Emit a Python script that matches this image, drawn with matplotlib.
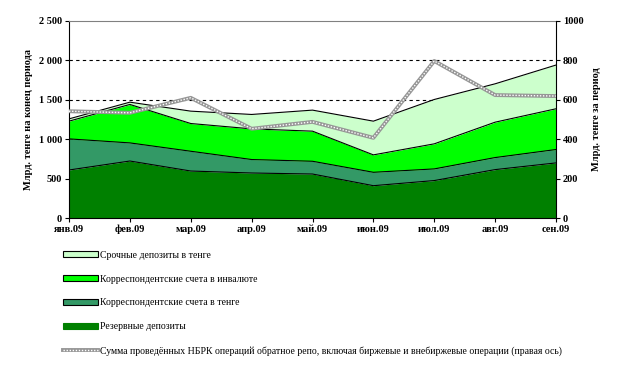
import numpy as np
import matplotlib
matplotlib.use('Agg')
import matplotlib.pyplot as plt
from matplotlib.patches import Patch
from matplotlib.lines import Line2D
from matplotlib.legend_handler import HandlerTuple

months = ['янв.09', 'фев.09', 'мар.09', 'апр.09', 'май.09', 'июн.09', 'июл.09', 'авг.09', 'сен.09']
reserve = [609, 723, 596, 571, 558, 410, 475, 614, 699]
corr_kzt = [395, 230, 251, 171, 162, 170, 148, 153, 170]
corr_fx = [225, 488, 352, 389, 382, 221, 318, 449, 517]
term_dep = [29, 29, 157, 183, 267, 428, 563, 487, 555]
repo = [542, 534, 610, 453, 488, 407, 797, 624, 619]

names = ['Срочные депозиты в тенге', 'Корреспондентские счета в инвалюте',
         'Корреспондентские счета в тенге', 'Резервные депозиты',
         'Сумма проведённых НБРК операций обратное репо, включая биржевые и внебиржевые операции (правая ось)']
colors = ['#CCFFCC', '#00FF00', '#339966', '#008000']

plt.rcParams['font.family'] = ['Liberation Serif', 'DejaVu Serif']

fig = plt.figure(figsize=(6.23, 3.66), dpi=100)
ax = fig.add_axes([69/623, 1 - 218/366, 487/623, 197/366])
x = np.arange(len(months))

layers = [reserve, corr_kzt, corr_fx, term_dep]
cum = np.cumsum(np.array(layers), axis=0)
base = np.zeros(len(months))
for i, layer in enumerate(layers):
    top = cum[i]
    ax.fill_between(x, base, top, color=colors[3 - i], lw=0, zorder=2)
    ax.plot(x, top, color='black', lw=0.8, zorder=3)
    base = top

for g in [500, 1000, 1500, 2000]:
    ax.axhline(g, color='black', ls=(0, (3, 3)), lw=0.8, zorder=1)

ax.set_xlim(0, len(months) - 1)
ax.set_ylim(0, 2500)
ax.set_yticks([0, 500, 1000, 1500, 2000, 2500])
ax.set_yticklabels(['0', '500', '1 000', '1 500', '2 000', '2 500'])
ax.set_xticks(x)
ax.set_xticklabels(months)
ax.spines['top'].set_color('#808080')
ax.spines['right'].set_visible(False)
for lab in ax.get_xticklabels() + ax.get_yticklabels():
    lab.set_fontweight('bold')
    lab.set_fontsize(7.5)
ax.tick_params(length=3, width=0.8, pad=2)
ax.set_ylabel('Млрд. тенге на конец периода', fontsize=7.5, fontweight='bold', labelpad=4)

ax2 = ax.twinx()
ax2.set_ylim(0, 1000)
ax2.set_yticks([0, 200, 400, 600, 800, 1000])
for s in ['top', 'left', 'bottom']:
    ax2.spines[s].set_visible(False)
ax2.tick_params(length=3, width=0.8, pad=2)
for lab in ax2.get_yticklabels():
    lab.set_fontweight('bold')
    lab.set_fontsize(7.5)
ax2.set_ylabel('Млрд. тенге за период', fontsize=7.5, fontweight='bold', labelpad=6)
ax2.plot(x, repo, color='#969696', lw=2.8, zorder=4)
ax2.plot(x, repo, color='white', lw=1.0, ls=(0, (1, 1.2)), zorder=5)

handles = [Patch(facecolor=colors[0], edgecolor='black', lw=0.8),
           Patch(facecolor=colors[1], edgecolor='black', lw=0.8),
           Patch(facecolor=colors[2], edgecolor='black', lw=0.8),
           Patch(facecolor=colors[3], edgecolor=colors[3], lw=0.8),
           (Line2D([], [], color='#969696', lw=2.8),
            Line2D([], [], color='white', lw=1.0, ls=(0, (1, 1.2))))]
fig.legend(handles, names, loc='upper left', bbox_to_anchor=(54/623, 1 - 242/366),
           frameon=False, fontsize=7, handlelength=3.6, handleheight=0.6,
           labelspacing=1.52, handletextpad=0.2,
           handler_map={tuple: HandlerTuple(ndivide=1, pad=0)})

fig.savefig('out.png', dpi=100)
